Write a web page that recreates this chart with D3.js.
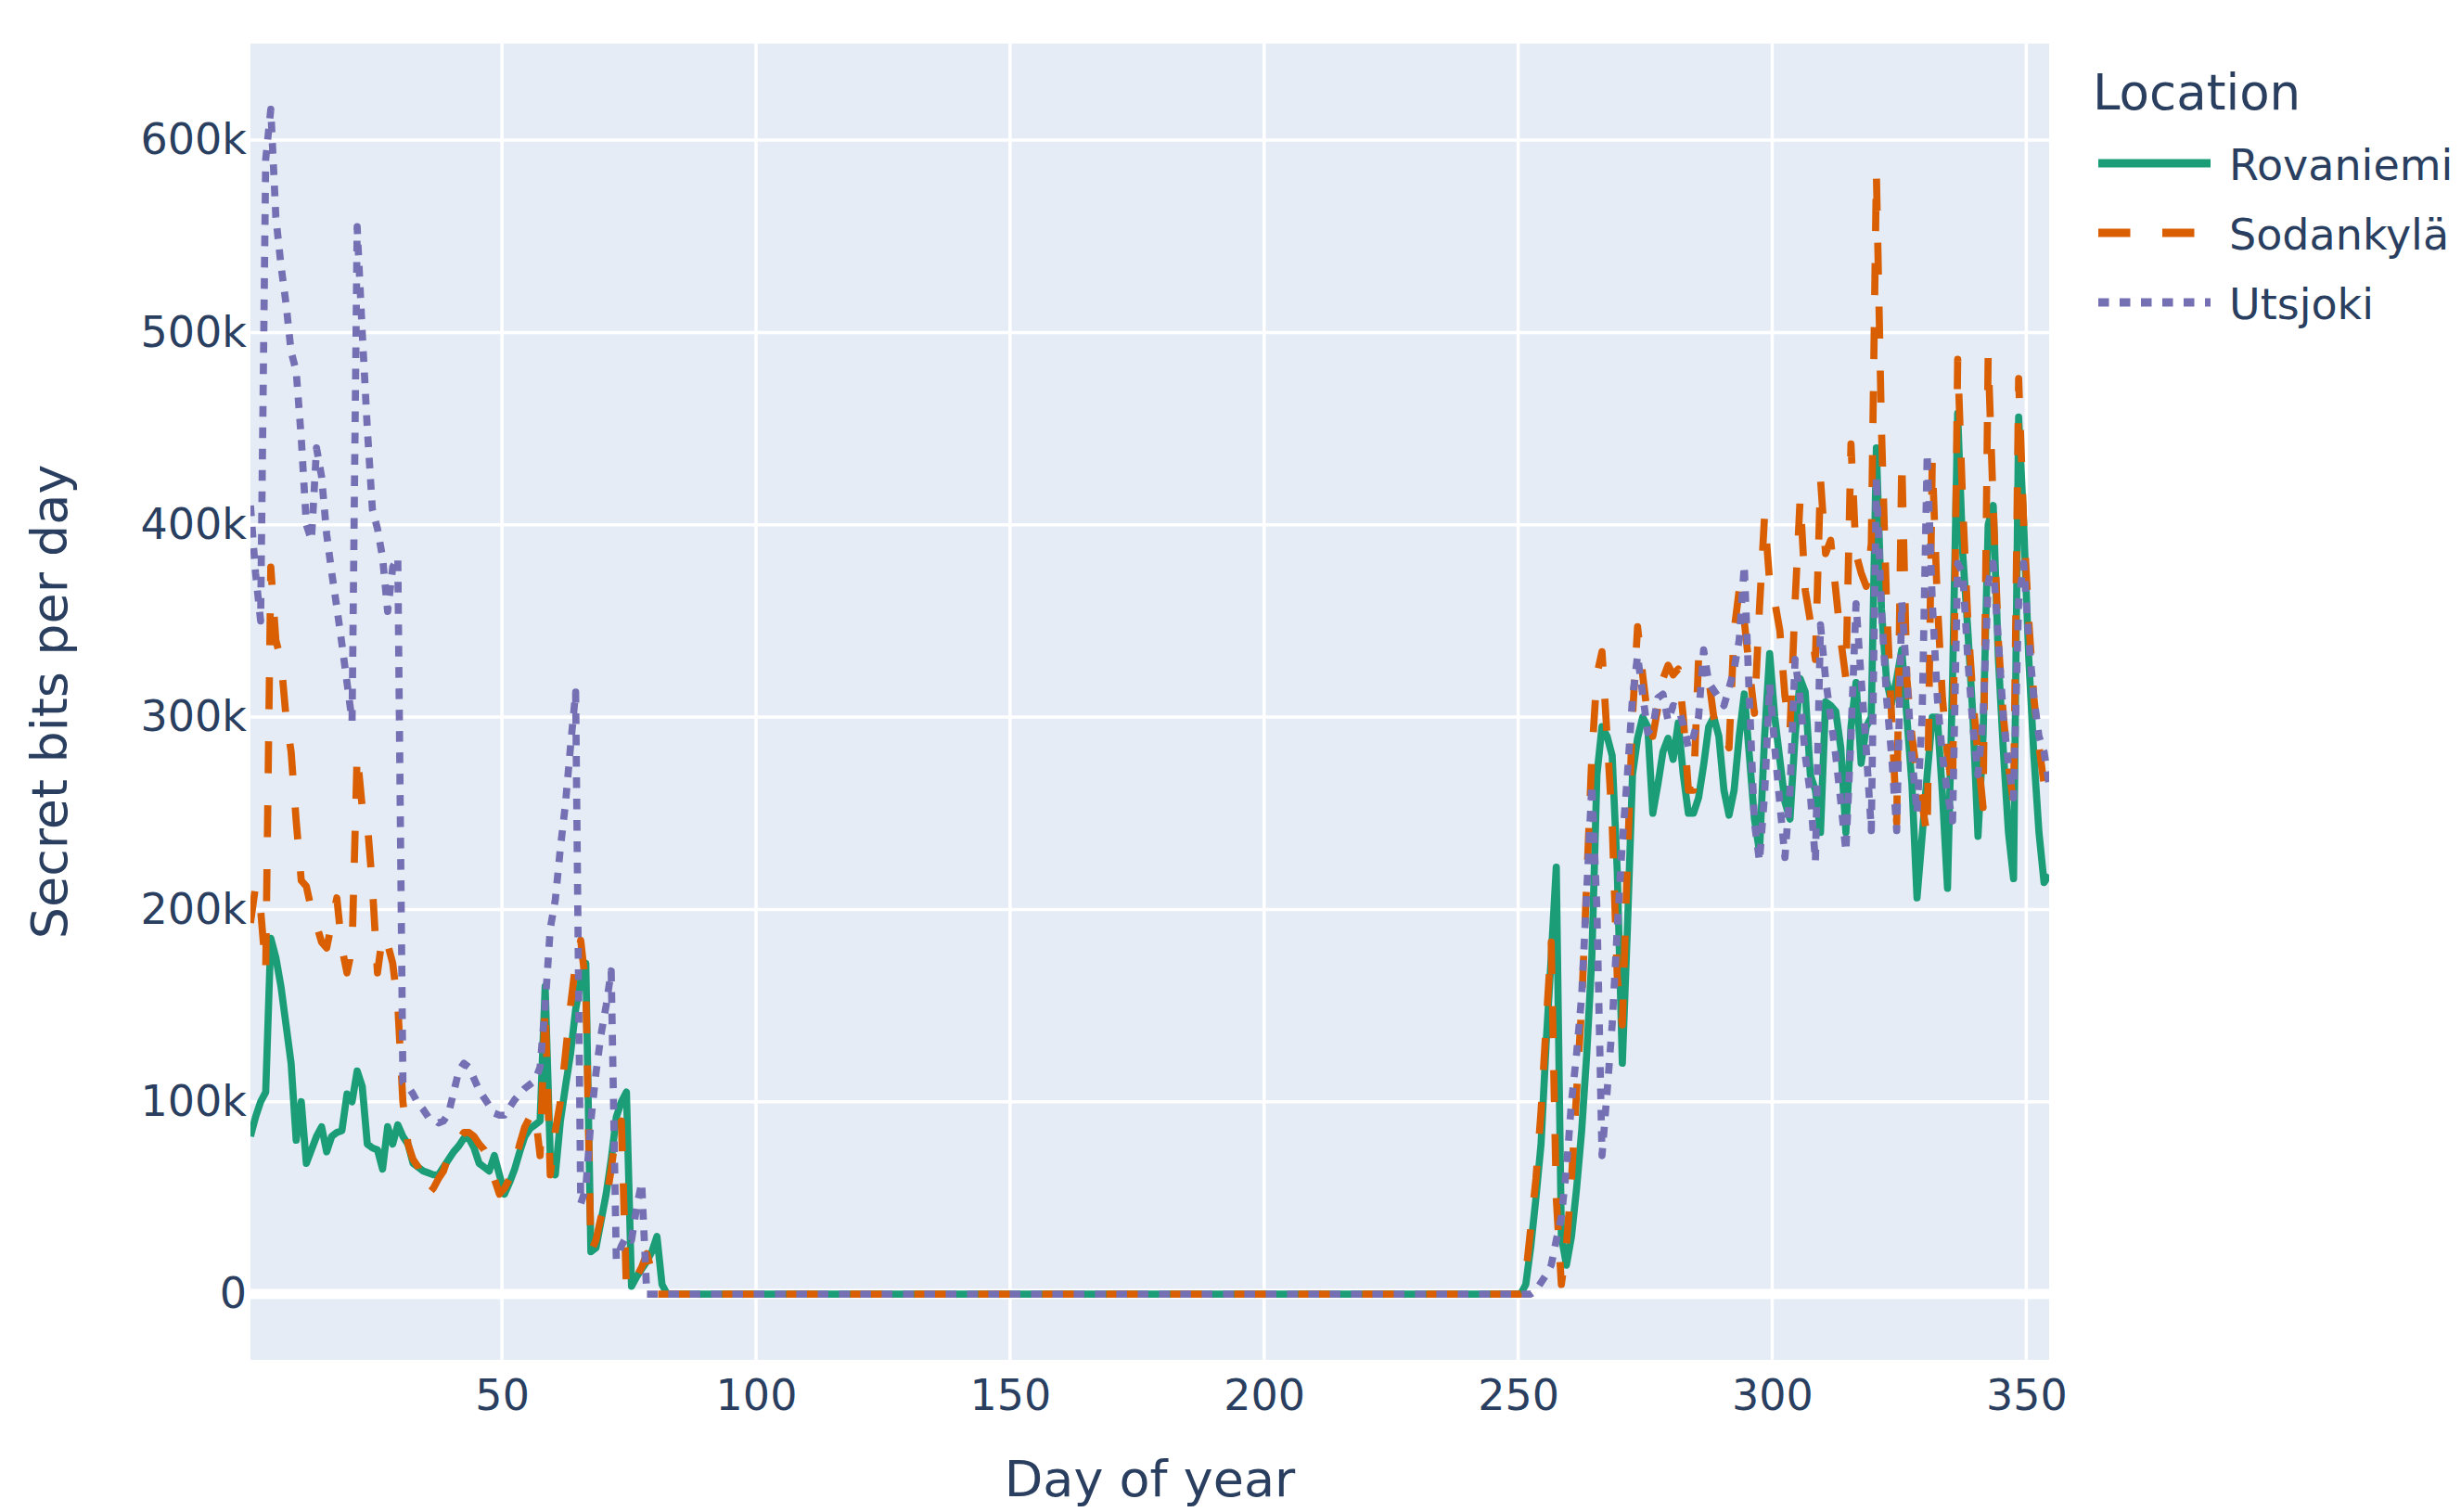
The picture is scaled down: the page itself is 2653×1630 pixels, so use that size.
<!DOCTYPE html>
<html><head><meta charset="utf-8">
<script src="https://cdn.jsdelivr.net/npm/d3@7"></script>
<style>html,body{margin:0;padding:0;background:#fff;} svg{display:block;}</style>
</head><body><svg id="chart" width="2653" height="1630"></svg>
<script>
// ---------------- data (values in thousands of secret bits per day) ----------------
const locations = ["Rovaniemi", "Sodankylä", "Utsjoki"];
const seriesColors = ["#1b9e77", "#d95f02", "#7570b3"];
const unit = 1000;
const firstDay = 0.5;           // x of the first daily sample
const xTicks = [50, 100, 150, 200, 250, 300, 350];
const yTicks = [0, 100000, 200000, 300000, 400000, 500000, 600000];

// days 89.5 .. 249.5 : every location reads zero
const summerZeros = [
0,0,0,0,0,0,0,0,0,0, 0,0,0,0,0,0,0,0,0,0, 0,0,0,0,0,0,0,0,0,0, 0,0,0,0,0,0,0,0,0,0,
0,0,0,0,0,0,0,0,0,0, 0,0,0,0,0,0,0,0,0,0, 0,0,0,0,0,0,0,0,0,0, 0,0,0,0,0,0,0,0,0,0,
0,0,0,0,0,0,0,0,0,0, 0,0,0,0,0,0,0,0,0,0, 0,0,0,0,0,0,0,0,0,0, 0,0,0,0,0,0,0,0,0,0,
0,0,0,0,0,0,0,0,0,0, 0,0,0,0,0,0,0,0,0,0, 0,0,0,0,0,0,0,0,0,0, 0,0,0,0,0,0,0,0,0,0
];

const rovaniemiK = [
82,92,100,105,185,175,160,140,120,80,
100,68,75,82,87,74,82,84,85,104,
100,116,108,78,76,75,65,87,78,88,
82,78,68,66,64,63,62,62,66,70,
74,77,81,81,76,68,66,64,72,62,
52,58,65,74,82,86,88,90,160,72,
62,90,108,125,148,163,172,22,24,38,
52,70,92,100,105,4,9,13,17,22,
30,5,0,0,0,0,0,0,0,0,
...summerZeros,
0,5,25,50,78,130,175,222,30,15,
30,55,85,125,175,270,295,290,280,220,
120,190,270,289,300,295,250,265,282,289,
278,297,270,250,250,258,275,295,300,290,
262,249,262,290,312,280,247,230,290,333,
300,278,256,247,290,320,313,270,262,240,
308,306,303,284,240,295,318,276,295,300,
440,356,319,307,320,335,300,265,206,238,
270,300,300,260,211,320,458,385,345,300,
238,290,400,410,331,282,240,216,456,400,
330,280,240,214,218
];

const sodankylaK = [
193,212,200,168,378,340,330,300,282,246,
215,212,200,192,183,180,193,206,180,167,
180,281,253,245,212,167,187,182,172,150,
100,78,70,66,55,52,55,60,64,72,
76,80,84,84,82,78,75,70,60,52,
55,60,68,78,87,92,95,72,150,62,
85,100,125,150,172,184,160,22,28,40,
48,65,85,90,2,5,9,14,21,12,
0,0,0,0,0,0,0,0,0,0,
...summerZeros,
0,10,35,60,95,140,183,50,5,25,
60,105,150,215,280,322,334,290,245,165,
140,225,300,347,322,300,290,305,320,327,
322,325,300,262,262,330,324,320,300,291,
291,284,345,366,350,325,302,357,405,370,
360,345,311,293,360,414,366,350,330,424,
385,392,366,340,320,442,385,375,368,390,
583,450,360,300,245,434,320,290,270,255,
238,434,360,310,280,262,486,410,350,310,
280,253,488,410,340,300,275,255,476,400,
350,310,285,265,262
];

const utsjokiK = [
410,375,350,590,616,560,535,515,490,480,
445,400,392,440,425,395,375,357,338,318,
298,555,500,450,408,398,383,355,378,383,
110,108,104,99,96,92,91,89,90,94,
105,116,120,118,112,106,102,98,94,93,
93,97,101,104,107,109,111,118,150,190,
205,232,255,285,313,47,55,90,115,135,
150,168,18,25,30,28,45,58,0,0,
0,0,0,0,0,0,0,0,0,0,
...summerZeros,
0,0,0,2,6,10,15,28,40,65,
100,125,155,210,265,200,72,105,140,190,
235,270,310,332,312,292,295,310,312,298,
306,305,296,284,290,300,335,318,314,310,
306,315,325,340,379,310,245,225,260,317,
284,255,227,262,330,310,280,260,225,348,
320,300,280,256,230,290,359,320,284,241,
425,356,310,280,241,360,320,280,250,300,
437,360,310,280,260,246,380,375,330,295,
270,300,370,380,340,300,275,258,360,380,
340,310,290,282,265
];

// ---------------- drawing ----------------
const FONT = "'DejaVu Sans', Verdana, sans-serif";
const TEXT = "#2a3f5f";
const svg = d3.select("#chart");
const plot = {left: 270, right: 2209, top: 47, bottom: 1466};

const series = [
  {name: locations[0], values: rovaniemiK, color: seriesColors[0], dash: null},
  {name: locations[1], values: sodankylaK, color: seriesColors[1], dash: "34.5,34.5"},
  {name: locations[2], values: utsjokiK,  color: seriesColors[2], dash: "11.5,11.5"}
];
series.forEach(s => { if (s.values.length !== 355) console.error(s.name + " length " + s.values.length); });

const days = d3.range(rovaniemiK.length).map(i => firstDay + i);
const x = d3.scaleLinear().domain(d3.extent(days)).range([plot.left, plot.right]);
const maxV = d3.max(series, s => d3.max(s.values)) * unit;
const pad = maxV / 18;
const y = d3.scaleLinear().domain([-pad, maxV + pad]).range([plot.bottom, plot.top]);

svg.append("rect").attr("width", 2653).attr("height", 1630).attr("fill", "#fff");
svg.append("rect").attr("x", plot.left).attr("y", plot.top)
  .attr("width", plot.right - plot.left).attr("height", plot.bottom - plot.top)
  .attr("fill", "#E5ECF6");

// grid
const grid = svg.append("g");
grid.selectAll("line.vx").data(xTicks).join("line")
  .attr("x1", d => x(d)).attr("x2", d => x(d))
  .attr("y1", plot.top).attr("y2", plot.bottom)
  .attr("stroke", "#fff").attr("stroke-width", 3.5);
grid.selectAll("line.hy").data(yTicks.filter(d => d !== 0)).join("line")
  .attr("x1", plot.left).attr("x2", plot.right)
  .attr("y1", d => y(d)).attr("y2", d => y(d))
  .attr("stroke", "#fff").attr("stroke-width", 3.5);
// zero line
svg.append("line").attr("x1", plot.left).attr("x2", plot.right)
  .attr("y1", y(0)).attr("y2", y(0)).attr("stroke", "#fff").attr("stroke-width", 11);

// axes
const xAxis = svg.append("g").attr("transform", `translate(0,${plot.bottom})`)
  .call(d3.axisBottom(x).tickValues(xTicks).tickSize(0).tickPadding(21.3).tickFormat(d3.format("d")));
const yAxis = svg.append("g").attr("transform", `translate(${plot.left},0)`)
  .call(d3.axisLeft(y).tickValues(yTicks).tickSize(0).tickPadding(4).tickFormat(d3.format("~s")));
[xAxis, yAxis].forEach(g => {
  g.select(".domain").remove();
  g.attr("font-family", null).attr("font-size", null);
  g.selectAll("text").attr("fill", TEXT).style("font-family", FONT).style("font-size", "46px");
});

// lines
svg.append("clipPath").attr("id", "clip").append("rect")
  .attr("x", plot.left).attr("y", plot.top)
  .attr("width", plot.right - plot.left).attr("height", plot.bottom - plot.top);
const line = d3.line().x((d, i) => x(days[i])).y(d => y(d * unit));
const lines = svg.append("g").attr("clip-path", "url(#clip)");
series.forEach(s => {
  lines.append("path").datum(s.values)
    .attr("d", line)
    .attr("fill", "none")
    .attr("stroke", s.color)
    .attr("stroke-width", 7.7)
    .attr("stroke-linejoin", "round")
    .attr("stroke-dasharray", s.dash);
});

// axis titles
svg.append("text").attr("x", (plot.left + plot.right) / 2).attr("y", 1613)
  .attr("text-anchor", "middle").attr("fill", TEXT)
  .style("font-family", FONT).style("font-size", "54px").text("Day of year");
svg.append("text").attr("transform", `translate(72,${(plot.top + plot.bottom) / 2}) rotate(-90)`)
  .attr("text-anchor", "middle").attr("fill", TEXT)
  .style("font-family", FONT).style("font-size", "54px").text("Secret bits per day");

// legend
const legend = svg.append("g");
legend.append("text").attr("x", 2256).attr("y", 118).attr("fill", TEXT)
  .style("font-family", FONT).style("font-size", "53px").text("Location");
series.forEach((s, i) => {
  const cy = 176 + i * 75;
  legend.append("line").attr("x1", 2262).attr("x2", 2383).attr("y1", cy).attr("y2", cy)
    .attr("stroke", s.color).attr("stroke-width", 9).attr("stroke-dasharray", s.dash);
  legend.append("text").attr("x", 2403).attr("y", cy + 18).attr("fill", TEXT)
    .style("font-family", FONT).style("font-size", "46px").text(s.name);
});
</script>
</body></html>
